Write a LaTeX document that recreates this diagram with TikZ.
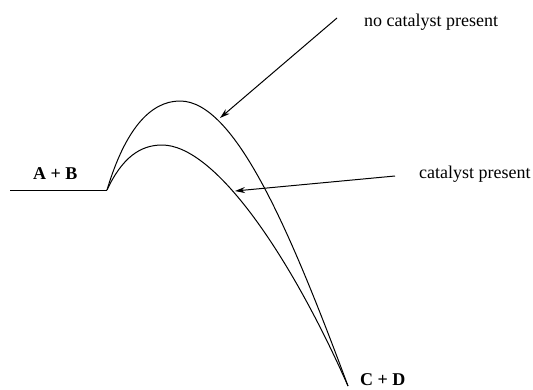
\documentclass[tikz,border=0pt]{standalone}
\usepackage{fontspec}
\setmainfont{Liberation Serif}
\usetikzlibrary{arrows.meta}
\begin{document}
\begin{tikzpicture}[x=1pt,y=-1pt,
  curve/.style={line width=1pt,line join=round},
  pointer/.style={line width=1pt,-{Stealth[length=10pt,width=6pt]}},
  label/.style={font=\fontsize{18}{20}\selectfont,inner sep=0pt,anchor=base west},
  species/.style={label,font=\fontsize{18}{20}\selectfont\bfseries}]
\useasboundingbox (0,0) rectangle (533,389);
% key points
\coordinate (left) at (10,190);
\coordinate (start) at (107,190);
\coordinate (peakU) at (180,101);
\coordinate (peakL) at (162,145);
\coordinate (end) at (348,386);
% energy profile
\draw[curve] (left) -- (start);
\draw[curve] (start) .. controls (125,130) and (150,101) .. (peakU)
  .. controls (235,101) and (290,230) .. (end);
\draw[curve] (start) .. controls (122,158) and (140,145) .. (peakL)
  .. controls (215,145) and (290,255) .. (end);
% labels
\node[species] (ab) at (33,179) {A + B};
\node[species] (cd) at (360,385) {C + D};
\node[label] (nocat) at (364,26) {no catalyst present};
\node[label] (cat) at (419,178) {catalyst present};
% arrows
\coordinate (nocatTail) at (337,18);
\coordinate (nocatHead) at (220,118);
\coordinate (catTail) at (395,176);
\coordinate (catHead) at (235,191);
\draw[pointer] (nocatTail) -- (nocatHead);
\draw[pointer] (catTail) -- (catHead);
\end{tikzpicture}
\end{document}
